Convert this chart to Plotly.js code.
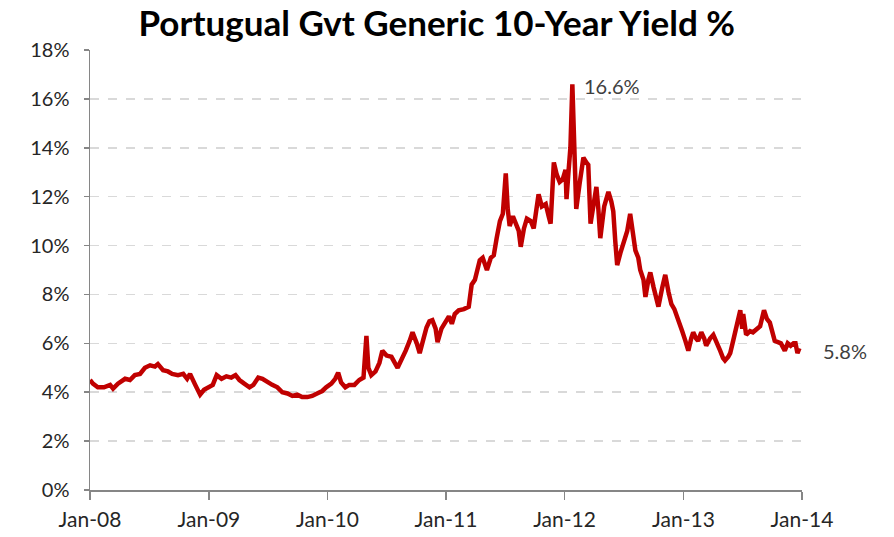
<!DOCTYPE html>
<html>
<head>
<meta charset="utf-8">
<script src="https://cdn.plot.ly/plotly-3.0.1.min.js"></script>
<style>html,body{margin:0;padding:0;background:#fff;}#chart{width:894px;height:537px;}</style>
</head>
<body>
<div id="chart"></div>
<script>
const chartTitle = "Portugual Gvt Generic 10-Year Yield %";
const dates = [
"2008-01-01","2008-01-10","2008-01-25","2008-02-13","2008-03-03","2008-03-12","2008-03-27","2008-04-18","2008-05-03","2008-05-18",
"2008-06-03","2008-06-18","2008-07-04","2008-07-19","2008-07-28","2008-08-13","2008-08-28","2008-09-10","2008-09-28","2008-10-14",
"2008-10-26","2008-11-04","2008-11-20","2008-12-05","2008-12-17",
"2009-01-01","2009-01-13","2009-01-25","2009-02-09","2009-02-24","2009-03-11","2009-03-24","2009-04-05","2009-04-20","2009-05-06",
"2009-05-18","2009-06-02","2009-06-15","2009-06-30","2009-07-15","2009-07-31","2009-08-15","2009-08-31","2009-09-15","2009-09-30",
"2009-10-15","2009-10-31","2009-11-15","2009-11-30","2009-12-16","2009-12-28",
"2010-01-13","2010-01-25","2010-02-03","2010-02-12","2010-02-25","2010-03-09","2010-03-25","2010-04-09","2010-04-22","2010-05-01",
"2010-05-07","2010-05-16","2010-05-29","2010-06-10","2010-06-19","2010-07-02","2010-07-17","2010-08-05","2010-08-17","2010-08-30",
"2010-09-11","2010-09-20","2010-10-03","2010-10-12","2010-10-24","2010-11-02","2010-11-11","2010-11-20","2010-11-30","2010-12-06",
"2010-12-18","2010-12-30",
"2011-01-10","2011-01-19","2011-01-28","2011-02-09","2011-02-25","2011-03-12","2011-03-21","2011-03-31","2011-04-06","2011-04-15",
"2011-04-24","2011-05-07","2011-05-19","2011-05-28","2011-06-06","2011-06-16","2011-06-25","2011-07-01","2011-07-04","2011-07-10",
"2011-07-16","2011-07-26","2011-08-04","2011-08-13","2011-08-19","2011-08-29","2011-09-07","2011-09-19","2011-09-28","2011-10-07",
"2011-10-13","2011-10-23","2011-11-04","2011-11-13","2011-11-19","2011-11-29","2011-12-08","2011-12-17","2011-12-26",
"2012-01-04","2012-01-07","2012-01-13","2012-01-19","2012-01-25","2012-01-31","2012-02-06","2012-02-16","2012-02-28","2012-03-08",
"2012-03-14","2012-03-21","2012-03-30","2012-04-08","2012-04-14","2012-04-20","2012-05-02","2012-05-15","2012-05-24","2012-05-30",
"2012-06-05","2012-06-11","2012-06-21","2012-06-30","2012-07-12","2012-07-21","2012-07-31","2012-08-06","2012-08-15","2012-08-21",
"2012-08-31","2012-09-06","2012-09-15","2012-09-21","2012-10-01","2012-10-10","2012-10-16","2012-10-28","2012-11-06","2012-11-16",
"2012-11-25","2012-12-04","2012-12-16","2012-12-28",
"2013-01-07","2013-01-16","2013-01-25","2013-01-31","2013-02-09","2013-02-15","2013-02-25","2013-03-06","2013-03-12","2013-03-24",
"2013-04-03","2013-04-12","2013-04-24","2013-05-03","2013-05-09","2013-05-19","2013-05-25","2013-06-03","2013-06-12","2013-06-18",
"2013-06-25","2013-07-01","2013-07-04","2013-07-13","2013-07-25","2013-08-03","2013-08-15","2013-08-25","2013-09-06","2013-09-15",
"2013-09-24","2013-10-03","2013-10-09","2013-10-19","2013-10-28","2013-11-09","2013-11-18","2013-11-27","2013-12-06","2013-12-12",
"2013-12-18","2013-12-24"
];
const yields = [
4.5,4.35,4.2,4.2,4.3,4.15,4.35,4.55,4.5,4.7,
4.75,5.0,5.1,5.05,5.15,4.9,4.85,4.75,4.7,4.75,
4.55,4.75,4.3,3.9,4.1,
4.2,4.3,4.7,4.55,4.65,4.6,4.7,4.5,4.35,4.2,
4.3,4.6,4.55,4.4,4.3,4.2,4.0,3.95,3.85,3.9,
3.8,3.8,3.85,3.95,4.05,4.2,
4.35,4.55,4.8,4.4,4.2,4.3,4.3,4.5,4.6,6.3,
5.0,4.7,4.85,5.2,5.7,5.5,5.45,5.0,5.3,5.7,
6.1,6.45,6.0,5.6,6.2,6.65,6.9,6.95,6.6,6.05,
6.6,6.9,
7.1,6.8,7.2,7.35,7.4,7.5,8.4,8.6,8.9,9.4,
9.5,9.0,9.5,9.6,10.3,11.0,11.3,12.6,12.95,11.5,
10.8,11.2,10.9,10.6,9.95,10.7,11.1,11.0,10.7,11.4,
12.1,11.6,11.7,11.2,10.9,13.4,12.9,12.6,12.7,
13.1,11.9,13.0,14.0,16.6,14.0,11.5,12.5,13.6,13.4,
13.3,10.9,11.8,12.4,11.5,10.3,11.6,12.2,11.8,11.4,
10.2,9.2,9.7,10.1,10.6,11.3,10.4,9.8,9.5,9.0,
8.6,7.9,8.6,8.9,8.3,7.8,7.5,8.3,8.8,8.1,
7.6,7.4,7.0,6.5,
6.1,5.7,6.2,6.45,6.2,6.1,6.45,6.2,5.9,6.2,
6.35,6.1,5.7,5.4,5.3,5.45,5.6,6.1,6.65,7.1,
7.35,6.6,7.2,6.35,6.5,6.45,6.6,6.7,7.35,7.0,
6.85,6.4,6.1,6.05,6.0,5.7,6.0,5.9,6.0,6.0,
5.6,5.8
];
const tickDates = ["2008-01-01","2009-01-01","2010-01-01","2011-01-01","2012-01-01","2013-01-01","2014-01-01"];
const xTickLabels = ["Jan-08","Jan-09","Jan-10","Jan-11","Jan-12","Jan-13","Jan-14"];
const yTicks = [0,2,4,6,8,10,12,14,16,18];
const yTickLabels = ["0%","2%","4%","6%","8%","10%","12%","14%","16%","18%"];

const font = "Lato, 'Open Sans', sans-serif";
let peakIdx = 0;
yields.forEach((v,i)=>{ if(v>yields[peakIdx]) peakIdx=i; });
const lastIdx = yields.length-1;

const trace = {
  x: dates, y: yields, type: 'scatter', mode: 'lines',
  line: {color: '#C00000', width: 4.5}, hoverinfo: 'skip'
};
const layout = {
  width: 894, height: 537,
  margin: {l: 90, r: 92, t: 50, b: 47},
  paper_bgcolor: '#fff', plot_bgcolor: '#fff',
  showlegend: false,
  title: {text: '<b>' + chartTitle + '</b>', font: {family: font, size: 35, color: '#000'},
          xref: 'paper', x: 0.487, xanchor: 'center', yref: 'container', y: 0.955, yanchor: 'middle'},
  xaxis: {
    type: 'date', range: [tickDates[0], tickDates[tickDates.length-1]],
    tickvals: tickDates, ticktext: xTickLabels,
    showgrid: false, zeroline: false,
    showline: true, linecolor: '#868686', linewidth: 1.5,
    ticks: 'outside', ticklen: 8, tickcolor: '#868686', tickwidth: 1.5,
    ticklabelstandoff: 2,
    tickfont: {family: font, size: 21, color: '#262626'}
  },
  yaxis: {
    range: [0, 18], tickvals: yTicks, ticktext: yTickLabels,
    showgrid: true, gridcolor: '#d9d9d9', griddash: 'dash', gridwidth: 1.5,
    zeroline: false,
    showline: true, linecolor: '#868686', linewidth: 1.5,
    ticks: 'outside', ticklen: 5, tickcolor: '#868686', tickwidth: 1.5,
    ticklabelstandoff: 10,
    tickfont: {family: font, size: 20, color: '#262626'}
  },
  annotations: [
    {x: dates[peakIdx], y: yields[peakIdx], xref: 'x', yref: 'y', text: yields[peakIdx].toFixed(1) + '%',
     showarrow: false, xanchor: 'left', yanchor: 'middle', xshift: 10, yshift: -2,
     font: {family: font, size: 20, color: '#404040'}},
    {x: dates[lastIdx], y: yields[lastIdx], xref: 'x', yref: 'y', text: yields[lastIdx].toFixed(1) + '%',
     showarrow: false, xanchor: 'left', yanchor: 'middle', xshift: 22, yshift: -3,
     font: {family: font, size: 20, color: '#404040'}}
  ]
};
Plotly.newPlot('chart', [trace], layout, {staticPlot: true, displayModeBar: false});
</script>
</body>
</html>
